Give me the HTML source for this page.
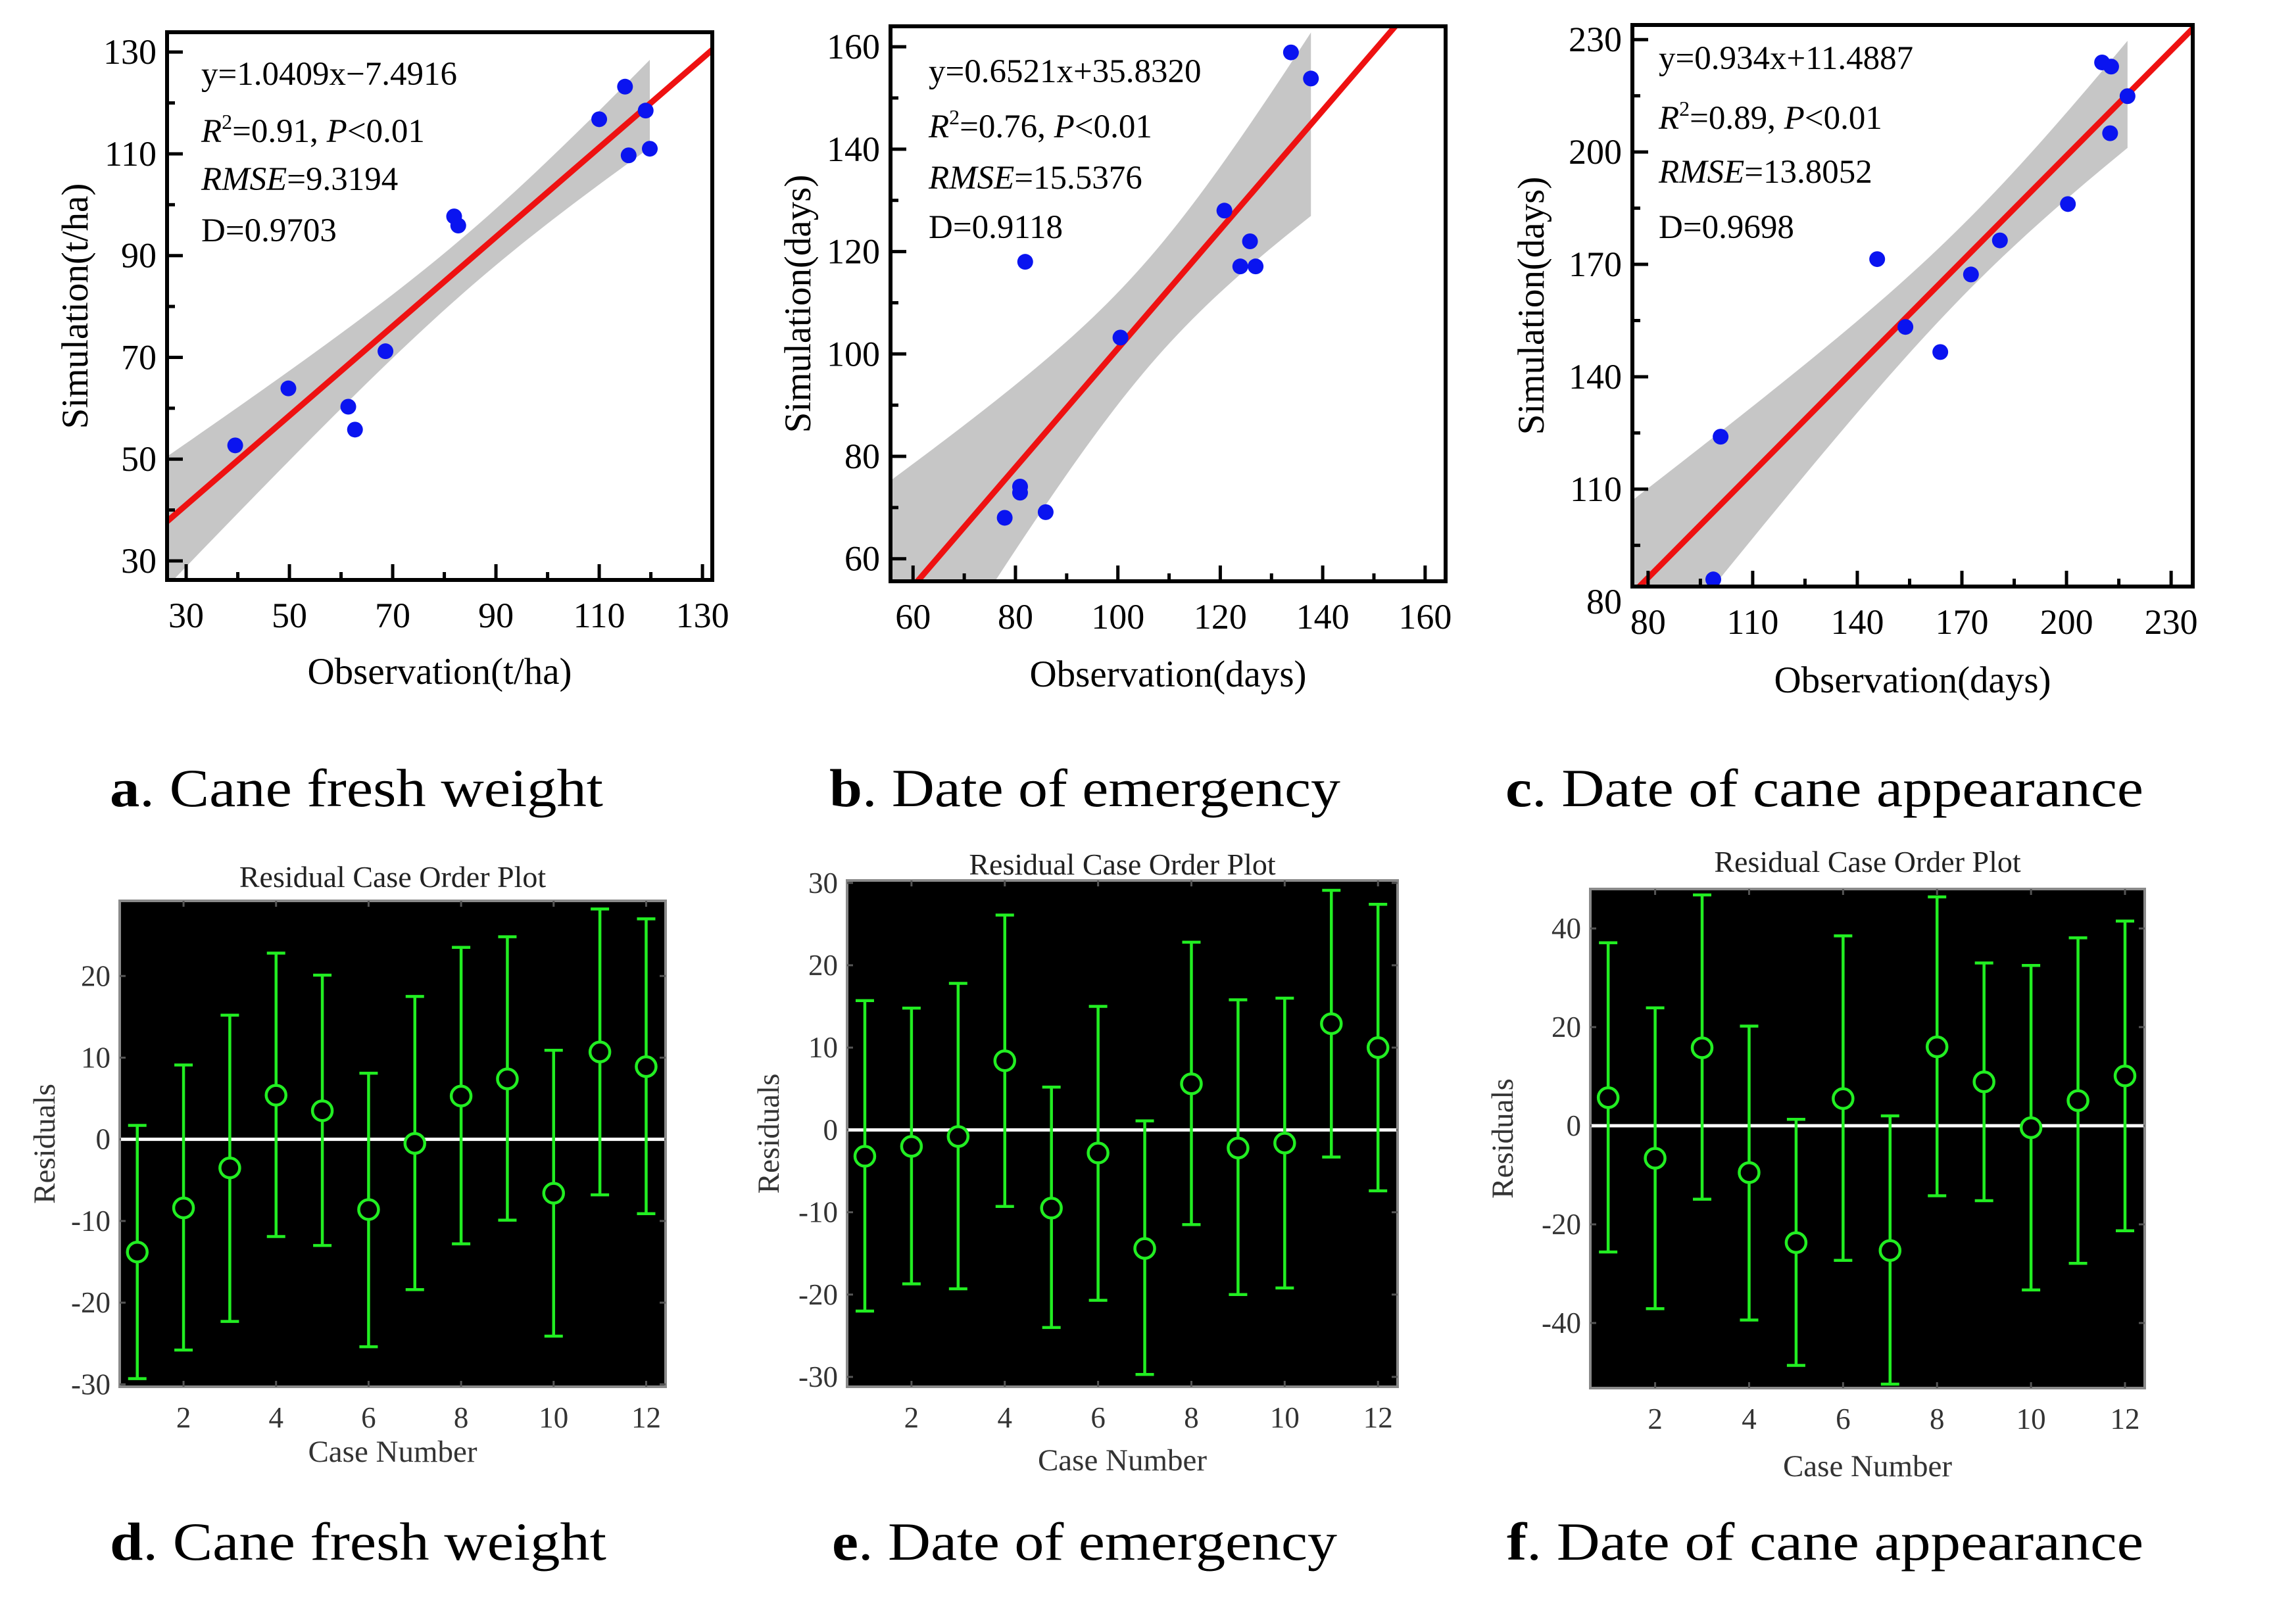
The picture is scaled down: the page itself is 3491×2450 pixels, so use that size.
<!DOCTYPE html>
<html><head><meta charset="utf-8"><style>
html,body{margin:0;padding:0;background:#fff;}
svg{display:block;font-family:"Liberation Serif",serif;}
</style></head><body>
<svg id="fig" width="3491" height="2450" viewBox="0 0 3491 2450" xmlns="http://www.w3.org/2000/svg">
<defs></defs>
</svg>
<script>
// ===== Scatter data =====
const obsA = [39.5,49.8,61.4,62.7,68.6,81.9,82.7,110,115,115.7,119,119.8];
const simA = [52.7,63.9,60.3,55.8,71.2,97.7,95.9,116.8,123.2,109.7,118.5,111];
const obsB = [77.9,80.9,80.9,85.9,81.9,100.5,120.8,123.9,126.9,125.8,133.8,137.7];
const simB = [68.0,74.1,72.9,69.1,118.0,103.2,128.0,117.1,117.1,122.0,158.9,153.8];
const obsC = [98.7,100.8,145.7,153.8,163.8,172.6,180.9,200.4,210.2,212.8,212.5,217.5];
const simC = [85.9,124.0,171.4,153.3,146.6,167.3,176.4,186.1,223.9,222.8,205.0,214.9];
const ticksA = [30,50,70,90,110,130];
const ticksB = [60,80,100,120,140,160];
const ticksC = [80,110,140,170,200,230];
const statsA = ["y=1.0409x\u22127.4916","0.91","9.3194","D=0.9703"];
const statsB = ["y=0.6521x+35.8320","0.76","15.5376","D=0.9118"];
const statsC = ["y=0.934x+11.4887","0.89","13.8052","D=0.9698"];
// ===== Residual data =====
const cases = [1,2,3,4,5,6,7,8,9,10,11,12];
const resD = [-13.8,-8.4,-3.5,5.4,3.5,-8.6,-0.5,5.3,7.4,-6.6,10.7,8.9];
const hiD  = [1.7,9.1,15.2,22.8,20.1,8.1,17.5,23.5,24.8,10.9,28.2,27.0];
const loD  = [-29.3,-25.8,-22.3,-11.9,-13.0,-25.4,-18.4,-12.8,-9.9,-24.1,-6.8,-9.1];
const resE = [-3.2,-2.0,-0.8,8.4,-9.5,-2.8,-14.4,5.6,-2.2,-1.6,12.9,10.0];
const hiE  = [15.7,14.8,17.8,26.1,5.2,15.0,1.1,22.8,15.8,16.0,29.1,27.4];
const loE  = [-22.0,-18.7,-19.3,-9.3,-24.0,-20.7,-29.7,-11.5,-20.0,-19.2,-3.3,-7.4];
const resF = [5.7,-6.6,15.8,-9.5,-23.7,5.5,-25.3,16.0,8.9,-0.4,5.1,10.1];
const hiF  = [37.1,23.9,46.8,20.2,1.3,38.5,2.0,46.4,33.0,32.5,38.1,41.5];
const loF  = [-25.6,-37.1,-14.9,-39.4,-48.6,-27.3,-52.4,-14.2,-15.2,-33.3,-27.9,-21.3];
const resTicksD = [-30,-20,-10,0,10,20];
const resTicksE = [-30,-20,-10,0,10,20,30];
const resTicksF = [-40,-20,0,20,40];
const caseTicks = [2,4,6,8,10,12];

const NS="http://www.w3.org/2000/svg";
const svg=document.getElementById('fig');
function mk(parent,tag,attrs,text){const e=document.createElementNS(NS,tag);for(const k in attrs)e.setAttribute(k,attrs[k]);if(text!==undefined)e.textContent=text;parent.appendChild(e);return e;}

function scatter(id,L,R,T,B,xmin,xmax,ymin,ymax,obs,sim,ticks,minorStep,stats,xTitle,yTitle,statX,statY,xTitleY,yTitleX){
  const g=mk(svg,'g',{});
  
  
  const sx=v=>L+(v-xmin)/(xmax-xmin)*(R-L);
  const sy=v=>B-(v-ymin)/(ymax-ymin)*(B-T);
  const cp=mk(svg.querySelector('defs'),'clipPath',{id:'clip'+id});
  mk(cp,'rect',{x:L,y:T,width:R-L,height:B-T});
  const n=obs.length;let mx=0,my=0;for(let i=0;i<n;i++){mx+=obs[i];my+=sim[i];}mx/=n;my/=n;
  let sxx=0,sxy=0;for(let i=0;i<n;i++){sxx+=(obs[i]-mx)**2;sxy+=(obs[i]-mx)*(sim[i]-my);}
  const b=sxy/sxx,a=my-b*mx;let sse=0;for(let i=0;i<n;i++)sse+=(sim[i]-a-b*obs[i])**2;
  const s=Math.sqrt(sse/(n-2)),t=2.228;
  const xEnd=Math.max(...obs);const up=[],lo=[];
  for(let k=0;k<=60;k++){const x=xmin+(xEnd-xmin)*k/60;const yh=a+b*x;const w=t*s*Math.sqrt(1/n+(x-mx)**2/sxx);up.push(sx(x)+','+sy(yh+w));lo.unshift(sx(x)+','+sy(yh-w));}
  const band=mk(g,'polygon',{points:up.concat(lo).join(' '),fill:'#c6c6c6','clip-path':'url(#clip'+id+')'});
  
  
  const ln=mk(g,'line',{x1:sx(xmin),y1:sy(a+b*xmin),x2:sx(xmax),y2:sy(a+b*xmax),stroke:'#ee1111','stroke-width':9,'clip-path':'url(#clip'+id+')'});
  
  
  for(let i=0;i<n;i++){
    const c=mk(g,'circle',{cx:sx(obs[i]),cy:sy(sim[i]),r:12,fill:'#0a14f0','clip-path':'url(#clip'+id+')'});
    
    
  }
  const fr=mk(g,'rect',{x:L,y:T,width:R-L,height:B-T,fill:'none',stroke:'#000','stroke-width':6});
  
  
  const step=ticks[1]-ticks[0];
  for(let v=ticks[0]-step;v<=ticks[ticks.length-1]+step;v+=minorStep){
    const major=ticks.includes(v);const len=major?24:12;
    if(v>=xmin&&v<=xmax){mk(g,'line',{x1:sx(v),y1:B,x2:sx(v),y2:B-len,stroke:'#000','stroke-width':5});}
    if(v>=ymin&&v<=ymax){mk(g,'line',{x1:L,y1:sy(v),x2:L+len,y2:sy(v),stroke:'#000','stroke-width':5});}
  }
  for(const v of ticks){
    const tx=mk(g,'text',{x:sx(v),y:B+72,'font-size':54,'text-anchor':'middle'},String(v));
    
    
    const ty=mk(g,'text',{x:L-16,y:sy(v)+18,'font-size':54,'text-anchor':'end'},String(v));
    
    
  }
  const xt=mk(g,'text',{x:(L+R)/2,y:xTitleY,'font-size':57,'text-anchor':'middle'},xTitle);
  
  
  const yt=mk(g,'text',{x:yTitleX,y:(T+B)/2,'font-size':57,'text-anchor':'middle',transform:'rotate(-90 '+yTitleX+' '+(T+B)/2+')'},yTitle);
  
  
  const fs=51;
  const t1=mk(g,'text',{x:statX,y:statY[0],'font-size':fs},stats[0]);
  
  
  const t2=mk(g,'text',{x:statX,y:statY[1],'font-size':fs});
  
  
  mk(t2,'tspan',{'font-style':'italic'},'R');
  mk(t2,'tspan',{'font-size':32,dy:-20},'2');
  mk(t2,'tspan',{dy:20},'='+stats[1]+', ');
  mk(t2,'tspan',{'font-style':'italic'},'P');
  mk(t2,'tspan',{},'<0.01');
  const t3=mk(g,'text',{x:statX,y:statY[2],'font-size':fs});
  
  
  mk(t3,'tspan',{'font-style':'italic'},'RMSE');
  mk(t3,'tspan',{},'='+stats[2]);
  const t4=mk(g,'text',{x:statX,y:statY[3],'font-size':fs},stats[3]);
  
  
}

function residual(id,L,R,T,B,ymin,ymax,res,hi,lo,yticks,titleY,xTitleY,yTitleX){
  const g=mk(svg,'g',{});
  
  
  const xs=v=>L+ (v-0.62)/(12.42-0.62)*(R-L);
  const sy=v=>B-(v-ymin)/(ymax-ymin)*(B-T);
  const bg=mk(g,'rect',{x:L,y:T,width:R-L,height:B-T,fill:'#000',stroke:'#8a8a8a','stroke-width':4});
  
  
  for(const v of caseTicks){mk(g,'line',{x1:xs(v),y1:B,x2:xs(v),y2:B-9,stroke:'#555','stroke-width':3});mk(g,'line',{x1:xs(v),y1:T,x2:xs(v),y2:T+9,stroke:'#555','stroke-width':3});
    const tx=mk(g,'text',{x:xs(v),y:B+62,'font-size':45,'text-anchor':'middle',fill:'#333'},String(v));
    
    }
  for(const v of yticks){mk(g,'line',{x1:L,y1:sy(v),x2:L+9,y2:sy(v),stroke:'#555','stroke-width':3});mk(g,'line',{x1:R,y1:sy(v),x2:R-9,y2:sy(v),stroke:'#555','stroke-width':3});
    const ty=mk(g,'text',{x:L-14,y:sy(v)+15,'font-size':45,'text-anchor':'end',fill:'#333'},String(v));
    
    }
  const zl=mk(g,'line',{x1:L+2,y1:sy(0),x2:R-2,y2:sy(0),stroke:'#fff','stroke-width':5});
  
  
  for(let i=0;i<cases.length;i++){
    const x=xs(cases[i]);const col='#22ee22';
    const eb=mk(g,'path',{d:'M'+x+' '+sy(hi[i])+'V'+sy(lo[i])+'M'+(x-14)+' '+sy(hi[i])+'H'+(x+14)+'M'+(x-14)+' '+sy(lo[i])+'H'+(x+14),stroke:col,'stroke-width':4.5,fill:'none'});
    
    
    const c=mk(g,'circle',{cx:x,cy:sy(res[i]),r:15,stroke:col,'stroke-width':4.5,fill:'#000'});
    
    
  }
  const tt=mk(g,'text',{x:(L+R)/2,y:titleY,'font-size':46,'text-anchor':'middle',fill:'#222'},'Residual Case Order Plot');
  
  
  const xt=mk(g,'text',{x:(L+R)/2,y:xTitleY,'font-size':47,'text-anchor':'middle',fill:'#333'},'Case Number');
  
  
  const cy=(T+B)/2;
  const yt=mk(g,'text',{x:yTitleX,y:cy,'font-size':47,'text-anchor':'middle',fill:'#333',transform:'rotate(-90 '+yTitleX+' '+cy+')'},'Residuals');
  
  
}

scatter('a',254,1083,49,882,26.3,131.9,26.25,133.9,obsA,simA,ticksA,10,statsA,'Observation(t/ha)','Simulation(t/ha)',306,[129,216,289,367],1040,133);
scatter('b',1354,2198,40,884,55.6,164,55.6,164,obsB,simB,ticksB,10,statsB,'Observation(days)','Simulation(days)',1412,[125,209,287,362],1044,1232);
scatter('c',2482,3334,38,892,75.5,236.2,84.0,233.9,obsC,simC,ticksC,15,statsC,'Observation(days)','Simulation(days)',2522,[105,196,278,362],1053,2347);

residual('d',182,1012,1370,2109,-30.3,29.2,resD,hiD,loD,resTicksD,1349,2223,83);
residual('e',1288,2125,1339,2109,-31.2,30.3,resE,hiE,loE,resTicksE,1330,2236,1184);
residual('f',2418,3261,1352,2111,-53.2,48.0,resF,hiF,loF,resTicksF,1326,2245,2300);

const caps=[['a','Cane fresh weight',167,1226,750],['b','Date of emergency',1261,1226,777],['c','Date of cane appearance',2289,1226,970],
            ['d','Cane fresh weight',167,2372,755],['e','Date of emergency',1265,2372,768],['f','Date of cane appearance',2291,2372,968]];
for(const c of caps){
  const t=mk(svg,'text',{x:c[2],y:c[3],'font-size':82,textLength:c[4],lengthAdjust:'spacingAndGlyphs'});
  
  
  mk(t,'tspan',{'font-weight':'bold'},c[0]);
  mk(t,'tspan',{},'. '+c[1]);
}
</script>
</body></html>
